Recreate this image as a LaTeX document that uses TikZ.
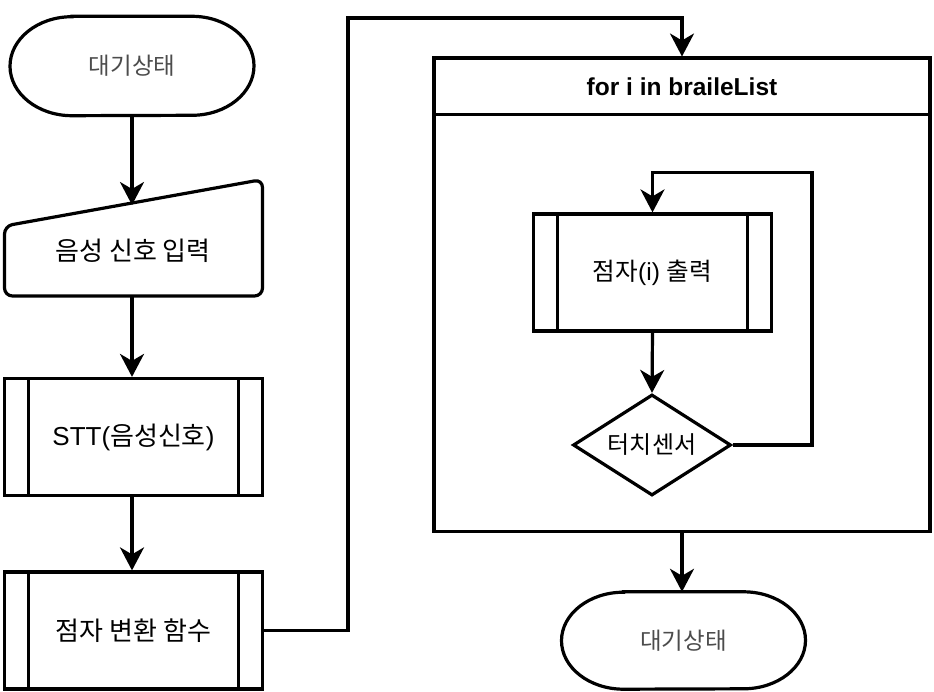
\documentclass[tikz,border=0pt]{standalone}
\usepackage{fontspec}
\setmainfont{Liberation Sans}
\newfontfamily\kr{Noto Sans CJK KR}
\usetikzlibrary{arrows.meta,shapes.geometric}
\begin{document}
\begin{tikzpicture}[x=1pt,y=-1pt,
  lw/.style={line width=3.2pt},
  every node/.style={inner sep=0pt},
  term/.style={minimum width=244pt, minimum height=99pt,
    text=black!70, font=\kr\fontsize{23.5}{28}\selectfont},
  subproc/.style={draw, lw, minimum width=#1, minimum height=117pt,
    path picture={
      \draw[lw] ([xshift=24pt]path picture bounding box.north west) -- ([xshift=24pt]path picture bounding box.south west);
      \draw[lw] ([xshift=-24pt]path picture bounding box.north east) -- ([xshift=-24pt]path picture bounding box.south east);
    }},
  decision/.style={draw, lw, shape=diamond, aspect=1.56, minimum width=158pt, minimum height=101pt,
    font=\fontsize{24}{28}\selectfont},
  frame/.style={draw, lw, minimum width=496pt},
  flow/.style={lw, line join=miter, -{Stealth[length=23pt,width=24pt,inset=7pt]}}
]
\useasboundingbox (0,0) rectangle (934,692);

% left column
\node[term] (t1) at (132,66) {대기상태};
\draw[lw] ([xshift=-60pt]t1.north) -- ([xshift=60pt]t1.north)
  arc[start angle=-90, end angle=90, x radius=62, y radius=49.5]
  -- ([xshift=-60pt]t1.south)
  arc[start angle=90, end angle=270, x radius=62, y radius=49.5] -- cycle;
\draw[lw, rounded corners=8pt] (4.5,226) -- (262.5,179.5) -- (262.5,296) -- (4.5,296) -- cycle;
\node[font=\fontsize{26}{30}\selectfont] (mi) at (133,251) {\kr 음성 신호 입력};
\coordinate (mitop) at (132,205);
\coordinate (mibot) at (132,296);
\node[subproc=258pt, font=\fontsize{26}{30}\selectfont] (stt) at (133.5,437) {STT(\kr 음성신호\rmfamily)};
\node[subproc=258pt, font=\fontsize{26}{30}\selectfont] (bz) at (133.5,630.5) {\kr 점자 변환 함수};

\draw[flow] (t1.south) -- (mitop);
\draw[flow] (mibot) -- (stt.north -| mibot);
\draw[flow] (stt.south -| mibot) -- (bz.north -| mibot);

% loop frame
\node[frame, minimum height=473.5pt, anchor=north] (fb) at (682,56.5) {};
\node[frame, minimum height=56.5pt, anchor=north, font=\bfseries\fontsize{24.5}{28}\selectfont] (hdr) at (682,56.5) {for i in braileList};

\coordinate (c1) at (348,18);
\draw[flow] (bz.east) -| (c1) -| (hdr.north);

\node[subproc=238pt, font=\fontsize{24.6}{29}\selectfont] (pi) at (652.5,272.5) {\kr 점자\rmfamily(i) \kr 출력};
\node[decision] (dm) at (652,445) {\kr 터치센서};
\coordinate (c2) at (812,172.5);
\draw[flow] (pi.south) -- (dm.north);
\draw[flow] (dm.east) -| (c2) -| (pi.north);

\node[term, minimum height=97pt] (t2) at (683.5,640.5) {대기상태};
\draw[lw] ([xshift=-60pt]t2.north) -- ([xshift=60pt]t2.north)
  arc[start angle=-90, end angle=90, x radius=62, y radius=48.5]
  -- ([xshift=-60pt]t2.south)
  arc[start angle=90, end angle=270, x radius=62, y radius=48.5] -- cycle;
\draw[flow] (fb.south) -- (fb.south |- t2.north);
\end{tikzpicture}
\end{document}
